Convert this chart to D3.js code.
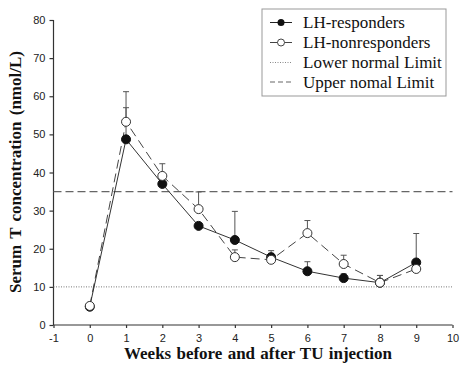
<!DOCTYPE html>
<html><head><meta charset="utf-8">
<script src="https://cdn.jsdelivr.net/npm/d3@7"></script>
<style>body{margin:0;background:#fff}svg{display:block}</style>
</head><body>
<script>
const weeks = [0,1,2,3,4,5,6,7,8,9];
const responders = [4.8,48.7,37.0,26.0,22.3,17.8,14.1,12.3,11.1,16.4];
const respondersErr = [null,57.0,null,null,29.8,18.8,16.6,13.4,13.0,24.0];
const nonresponders = [5.0,53.3,39.1,30.4,17.8,17.1,24.1,16.0,11.1,14.7];
const nonrespondersErr = [null,61.2,42.3,34.9,19.7,19.5,27.4,18.3,13.0,null];
const lowerLimit = 10;
const upperLimit = 35;
const xTicks = [-1,0,1,2,3,4,5,6,7,8,9,10];
const yTicks = [0,10,20,30,40,50,60,70,80];
const legendLabels = ["LH-responders","LH-nonresponders","Lower normal Limit","Upper nomal Limit"];

const W=472,H=367;
const svg=d3.select("body").append("svg").attr("width",W).attr("height",H);
const x=d3.scaleLinear().domain([-1,10]).range([53.5,452.5]);
const y=d3.scaleLinear().domain([0,80]).range([325,20]);

// axes
const xAxis=svg.append("g").attr("transform","translate(0,325)")
  .call(d3.axisBottom(x).tickValues(xTicks).tickFormat(d=>String(d)).tickSize(3).tickPadding(6));
const yAxis=svg.append("g").attr("transform","translate(53.5,0)")
  .call(d3.axisLeft(y).tickValues(yTicks).tickFormat(d=>String(d)).tickSize(4).tickPadding(4));
[xAxis,yAxis].forEach(a=>{
  a.selectAll("path,line").attr("stroke","#333").attr("stroke-width",1.2);
  a.selectAll("text").attr("font-family","Liberation Sans, Arial, sans-serif").attr("font-size",11).attr("fill","#222");
});
xAxis.select(".domain").attr("d","M53.5,0H452.5");
yAxis.select(".domain").attr("d","M0,20V325");

// reference lines
svg.append("line").attr("x1",x(-1)).attr("x2",x(10)).attr("y1",y(lowerLimit)).attr("y2",y(lowerLimit))
  .attr("stroke","#777").attr("stroke-width",1).attr("stroke-dasharray","1,1.5");
svg.append("line").attr("x1",x(-1)).attr("x2",x(10)).attr("y1",y(upperLimit)).attr("y2",y(upperLimit))
  .attr("stroke","#666").attr("stroke-width",1.2).attr("stroke-dasharray","8,4");

// error bars
function errBars(vals, errs){
  weeks.forEach((w,i)=>{
    if(errs[i]==null) return;
    svg.append("line").attr("x1",x(w)).attr("x2",x(w)).attr("y1",y(vals[i])).attr("y2",y(errs[i]))
      .attr("stroke","#555").attr("stroke-width",1);
    svg.append("line").attr("x1",x(w)-3).attr("x2",x(w)+3).attr("y1",y(errs[i])).attr("y2",y(errs[i]))
      .attr("stroke","#555").attr("stroke-width",1);
  });
}
errBars(responders,respondersErr);
errBars(nonresponders,nonrespondersErr);

const line=d3.line().x((d,i)=>x(weeks[i])).y(d=>y(d));
svg.append("path").attr("d",line(nonresponders)).attr("fill","none").attr("stroke","#444")
  .attr("stroke-width",1).attr("stroke-dasharray","9,5");
svg.append("path").attr("d",line(responders)).attr("fill","none").attr("stroke","#333").attr("stroke-width",1);

svg.selectAll("circle.r").data(responders).enter().append("circle")
  .attr("cx",(d,i)=>x(weeks[i])).attr("cy",d=>y(d)).attr("r",4.5).attr("fill","#111").attr("stroke","#111");
svg.selectAll("circle.n").data(nonresponders).enter().append("circle")
  .attr("cx",(d,i)=>x(weeks[i])).attr("cy",d=>y(d)).attr("r",4.5).attr("fill","#fff").attr("stroke","#333").attr("stroke-width",1);

// legend
const lg=svg.append("g");
lg.append("rect").attr("x",262).attr("y",9).attr("width",184).attr("height",87)
  .attr("fill","#fff").attr("stroke","#999").attr("stroke-width",1);
const rowsY=[22.5,42.5,62.5,82];
legendLabels.forEach((t,i)=>{
  const ly=rowsY[i];
  const ln=lg.append("line").attr("x1",270).attr("x2",292).attr("y1",ly).attr("y2",ly);
  if(i===0){ln.attr("stroke","#222").attr("stroke-width",1);
    lg.append("circle").attr("cx",281).attr("cy",ly).attr("r",3.5).attr("fill","#111");}
  else if(i===1){ln.attr("stroke","#444").attr("stroke-width",1);
    lg.append("circle").attr("cx",281).attr("cy",ly).attr("r",3.5).attr("fill","#fff").attr("stroke","#444");}
  else if(i===2){ln.attr("stroke","#888").attr("stroke-dasharray","1,1.5");}
  else {ln.attr("stroke","#666").attr("stroke-width",1.2).attr("stroke-dasharray","5,3");}
  lg.append("text").attr("x",303).attr("y",ly+5.5).text(t)
    .attr("font-family","Liberation Serif, Times New Roman, serif").attr("font-size",17).attr("fill","#111");
});

// axis titles
svg.append("text").attr("x",258).attr("y",359).attr("text-anchor","middle")
  .attr("font-family","Liberation Serif, Times New Roman, serif").attr("font-weight","bold").attr("font-size",17)
  .attr("fill","#111").attr("word-spacing",1).text("Weeks before and after TU injection");
svg.append("text").attr("transform","translate(21,172) rotate(-90)").attr("text-anchor","middle")
  .attr("font-family","Liberation Serif, Times New Roman, serif").attr("font-weight","bold").attr("font-size",17)
  .attr("fill","#111").attr("word-spacing",2).text("Serum T concentration (nmol/L)");
</script>
</body></html>
